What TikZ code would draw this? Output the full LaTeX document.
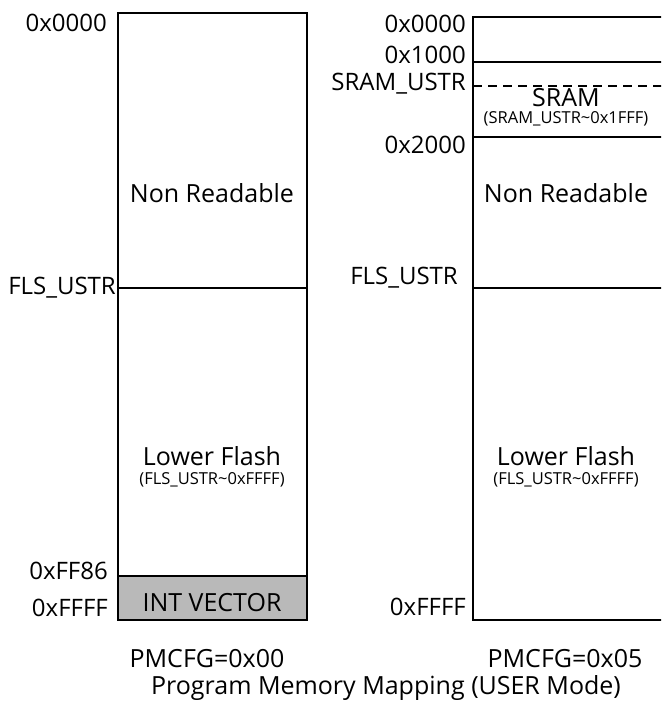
\documentclass[tikz,border=0pt]{standalone}
\usepackage{fontspec}
\setmainfont{Open Sans}
\begin{document}
\begin{tikzpicture}[x=1pt,y=-1pt,
  box/.style={draw=black,line width=1.6pt},
  sep/.style={draw=black,line width=1.4pt},
  lab/.style={anchor=east,inner sep=0pt,font=\fontsize{24}{28}\selectfont},
  big/.style={anchor=base,inner sep=0pt,text height=18pt,text depth=5pt,font=\fontsize{25}{29}\selectfont},
  nodesc/.style={text depth=1pt},
  small/.style={anchor=base,inner sep=0pt,text height=12pt,text depth=3pt,font=\fontsize{16.5}{19}\selectfont}]
\useasboundingbox (0,0) rectangle (661,722);
\begin{scope}
\clip (0,0) rectangle (661,722);
% left map
\coordinate (Ltl) at (118,13);
\coordinate (Lbr) at (307,620);
\fill[gray!55] (118,576) rectangle (307,620);
\draw[box] (Ltl) rectangle (Lbr);
\coordinate (Lf1) at (118,288); \coordinate (Lf2) at (307,288);
\draw[sep] (Lf1) -- (Lf2);
\coordinate (Lv1) at (118,576); \coordinate (Lv2) at (307,576);
\draw[sep] (Lv1) -- (Lv2);
% right map
\coordinate (Rtl) at (473,17);
\coordinate (Rbr) at (700,620);
\draw[box] (Rtl) rectangle (Rbr);
\coordinate (R1a) at (473,62); \coordinate (R1b) at (700,62);
\draw[sep] (R1a) -- (R1b);
\coordinate (R2a) at (473,86); \coordinate (R2b) at (700,86);
\draw[sep,dash pattern=on 9pt off 6pt] (R2a) -- (R2b);
\coordinate (R3a) at (473,137); \coordinate (R3b) at (700,137);
\draw[sep] (R3a) -- (R3b);
\coordinate (R4a) at (473,288); \coordinate (R4b) at (700,288);
\draw[sep] (R4a) -- (R4b);
\end{scope}
% left labels
\node[lab] (l0) at (107,23) {0x0000};
\node[lab] (l1) at (116,288) {FLS\_USTR};
\node[lab] (l2) at (108,571) {0xFF86};
\node[lab] (l3) at (108,608) {0xFFFF};
\node[big,nodesc] (lnr) at (212,202) {Non Readable};
\node[big,nodesc] (llf) at (212,465) {Lower Flash};
\node[small] (llfs) at (212,484) {(FLS\_USTR\textasciitilde 0xFFFF)};
\node[big,nodesc] (liv) at (212,611) {INT VECTOR};
% right labels
\node[lab] (r0) at (466,24) {0x0000};
\node[lab] (r1) at (466,55) {0x1000};
\node[lab] (r2) at (466,84) {SRAM\_USTR};
\node[lab] (r3) at (466,145) {0x2000};
\node[lab] (r4) at (458,278) {FLS\_USTR};
\node[lab] (r5) at (466,607) {0xFFFF};
\node[big,nodesc] (rsr) at (566,107) {SRAM};
\node[small] (rsrs) at (566,124) {(SRAM\_USTR\textasciitilde 0x1FFF)};
\node[big,nodesc] (rnr) at (566,202) {Non Readable};
\node[big,nodesc] (rlf) at (566,465) {Lower Flash};
\node[small] (rlfs) at (566,484) {(FLS\_USTR\textasciitilde 0xFFFF)};
% captions
\node[big,nodesc] (c1) at (207,667) {PMCFG=0x00};
\node[big,nodesc] (c2) at (565,667) {PMCFG=0x05};
\node[big] (c3) at (386,694) {Program Memory Mapping (USER Mode)};
\end{tikzpicture}
\end{document}
